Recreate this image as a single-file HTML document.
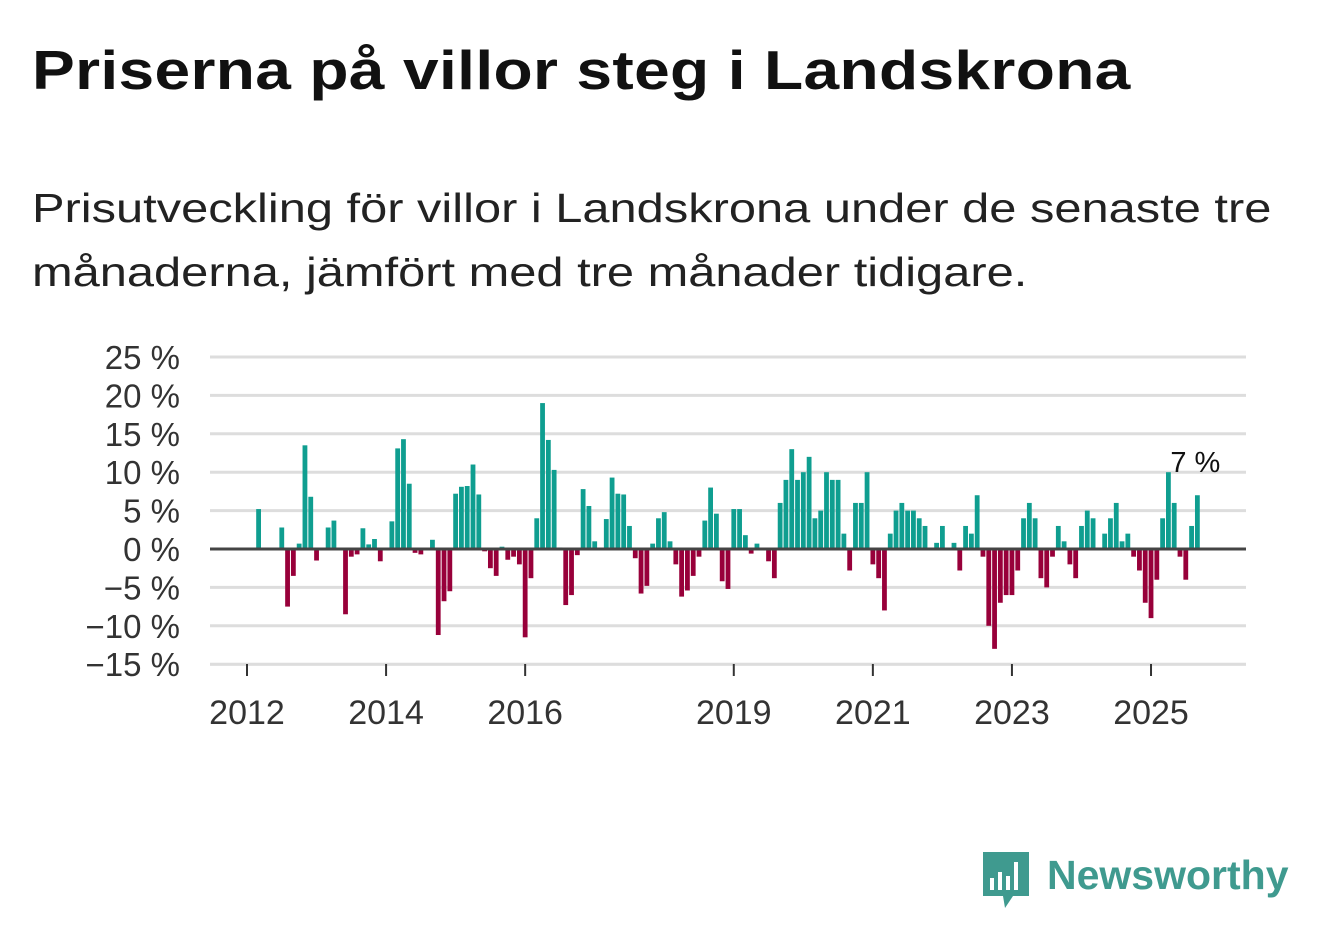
<!DOCTYPE html>
<html><head><meta charset="utf-8"><style>
body{margin:0;background:#fff;width:1322px;height:939px;overflow:hidden;font-family:"Liberation Sans",sans-serif;}
#t{position:absolute;left:32px;top:38px;font-size:55px;font-weight:bold;color:#111;margin:0;letter-spacing:0.3px;transform:scaleX(1.165);transform-origin:0 0;white-space:nowrap}
#s{position:absolute;left:32px;top:176px;font-size:41px;line-height:64px;color:#222;white-space:nowrap;transform:scaleX(1.19);transform-origin:0 0}
svg{position:absolute;left:0;top:0}
</style></head><body>
<h1 id="t">Priserna på villor steg i Landskrona</h1>
<div id="s">Prisutveckling för villor i Landskrona under de senaste tre<br>månaderna, jämfört med tre månader tidigare.</div>
<svg id="c" width="1322" height="939"></svg>
<script>
const yTicks=[25,20,15,10,5,0,-5,-10,-15];
const xYears=[2012,2014,2016,2019,2021,2023,2025];
const startMonth=[2,6,7,8,9,10,11,12,14,15,17,18,19,20,21,22,23,25,26,27,28,29,30,32,33,34,35,36,37,38,39,40,41,42,43,44,45,46,47,48,49,50,51,52,53,54,55,56,57,58,59,60,62,63,64,65,66,67,68,69,70,71,72,73,74,75,76,77,78,79,80,81,82,83,84,85,86,87,88,90,91,92,93,94,95,96,97,98,99,100,101,102,103,104,105,106,107,108,109,110,111,112,113,114,115,116,117,119,120,122,123,124,125,126,127,128,129,130,131,132,133,134,135,136,137,138,139,140,141,142,143,144,145,146,148,149,150,151,152,153,154,155,156,157,158,159,160,161,162,163,164];
const values=[5.2,2.8,-7.5,-3.5,0.7,13.5,6.8,-1.5,2.8,3.7,-8.5,-1,-0.7,2.7,0.6,1.3,-1.6,3.6,13.1,14.3,8.5,-0.5,-0.7,1.2,-11.2,-6.8,-5.5,7.2,8.1,8.2,11,7.1,-0.3,-2.5,-3.5,0.3,-1.4,-1,-2,-11.5,-3.8,4,19,14.2,10.3,0.2,-7.3,-6,-0.8,7.8,5.6,1,3.9,9.3,7.2,7.1,3,-1.2,-5.8,-4.8,0.7,4,4.8,1,-2,-6.2,-5.4,-3.5,-1,3.7,8,4.6,-4.2,-5.2,5.2,5.2,1.8,-0.6,0.7,-1.6,-3.8,6,9,13,9,10,12,4,5,10,9,9,2,-2.8,6,6,10,-2,-3.8,-8,2,5,6,5,5,4,3,0.8,3,0.8,-2.8,3,2,7,-1,-10,-13,-7,-6,-6,-2.8,4,6,4,-3.8,-5,-1,3,1,-2,-3.8,3,5,4,2,4,6,1,2,-1,-2.8,-7,-9,-4,4,10,6,-1,-4,3,7];
const NS="http://www.w3.org/2000/svg";
const svg=document.getElementById('c');
const y=v=>549-v*7.68;
const xm=m=>247+m*5.795;
const xy=yr=>xm((yr-2012)*12);
function mk(t,a){const e=document.createElementNS(NS,t);for(const k in a)e.setAttribute(k,a[k]);svg.appendChild(e);return e;}
yTicks.forEach(v=>{
 if(v!==0){const g=mk('line',{x1:210,x2:1246,y1:y(v),y2:y(v),stroke:'#ddd','stroke-width':3});
 
 }
 const t=mk('text',{x:180,y:y(v)+12,'text-anchor':'end','font-size':33,fill:'#333','font-family':'Liberation Sans, sans-serif'});
 t.textContent=(v<0?'\u2212'+(-v):v)+' %';
 
 
});
const ax=mk('line',{x1:210,x2:1246,y1:y(-15)+1,y2:y(-15)+1,stroke:'#ddd','stroke-width':1});


xYears.forEach(yr=>{
 const x=xy(yr);
 const tk=mk('line',{x1:x,x2:x,y1:664,y2:676,stroke:'#333','stroke-width':2});
 
 
 const t=mk('text',{x:x,y:724,'text-anchor':'middle','font-size':34,fill:'#333','font-family':'Liberation Sans, sans-serif'});
 t.textContent=yr;
 
 
});
values.forEach((v,i)=>{
 const x=xm(startMonth[i]);
 const r=mk('rect',{x:x-2.4,width:4.8,y:Math.min(y(v),549),height:Math.abs(y(v)-549),fill:v>=0?'#0f9e90':'#98003a'});
 
 
});
const z=mk('line',{x1:210,x2:1246,y1:549,y2:549,stroke:'#444','stroke-width':3});


const li=values.length-1;
const lab=mk('text',{x:xm(startMonth[li])-27,y:y(values[li])-23,'text-anchor':'start','font-size':29,fill:'#111','font-family':'Liberation Sans, sans-serif'});
lab.textContent=values[li]+' %';


</script>
<div style="position:absolute;left:981px;top:850px;width:310px;height:60px">
<svg width="50" height="60" style="position:absolute;left:0;top:0">
<path d="M2 2h46v44h-16l-8 12-2-12H2z" fill="#3f9a8f"/>
<rect x="9" y="28" width="4" height="12" fill="#fff"/><rect x="17" y="22" width="4" height="18" fill="#fff"/><rect x="25" y="26" width="4" height="14" fill="#fff"/><rect x="33" y="12" width="4" height="28" fill="#fff"/>
</svg>
<span style="position:absolute;left:66px;top:2px;font-size:41px;font-weight:bold;color:#3f9a8f">Newsworthy</span>
</div>
</body></html>
